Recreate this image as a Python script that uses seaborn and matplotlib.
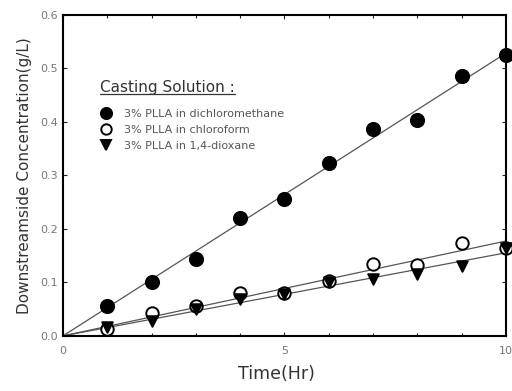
import numpy as np
import pandas as pd
import seaborn as sns
import matplotlib.pyplot as plt
from matplotlib.lines import Line2D

# data
time_hr = [1, 2, 3, 4, 5, 6, 7, 8, 9, 10]
dcm = [0.056, 0.100, 0.143, 0.220, 0.256, 0.323, 0.386, 0.404, 0.486, 0.525]
chloroform = [0.012, 0.042, 0.056, 0.081, 0.080, 0.103, 0.134, 0.133, 0.174, 0.165]
dioxane = [0.017, 0.028, 0.050, 0.069, 0.078, 0.101, 0.106, 0.115, 0.130, 0.165]
labels = ["3% PLLA in dichloromethane", "3% PLLA in chloroform", "3% PLLA in 1,4-dioxane"]

sns.set_style("ticks")
plt.rcParams['font.family'] = ['DejaVu Sans']

fig = plt.figure(figsize=(5.12, 3.91), dpi=100)
ax = fig.add_axes([0.123, 0.141, 0.865, 0.821])

styles = {
    labels[0]: dict(marker="o", facecolor="black", s=90, ms=8),
    labels[1]: dict(marker="o", facecolor="white", s=80, ms=7.5),
    labels[2]: dict(marker="v", facecolor="black", s=58, ms=7),
}

handles = []
for lab, vals in zip(labels, [dcm, chloroform, dioxane]):
    x = np.array(time_hr, dtype=float)
    y = np.array(vals)
    slope = (x * y).sum() / (x * x).sum()   # fit through origin
    fit = pd.DataFrame({"t": [0, 10], "c": [0, slope * 10]})
    sns.lineplot(data=fit, x="t", y="c", color="#555555", lw=0.9, ax=ax, zorder=2)
    st = styles[lab]
    df = pd.DataFrame({"t": x, "c": y})
    sns.scatterplot(data=df, x="t", y="c", marker=st["marker"], s=st["s"],
                    facecolor=st["facecolor"], edgecolor="black", linewidth=1.4,
                    ax=ax, zorder=3, clip_on=False)
    handles.append(Line2D([], [], ls="none", marker=st["marker"], markersize=st["ms"],
                          markerfacecolor=st["facecolor"], markeredgecolor="black",
                          markeredgewidth=1.4, label=lab))

ax.set_xlim(0, 10)
ax.set_ylim(0, 0.6)
ax.set_xticks([0, 5, 10])
ax.set_xticks(range(11), minor=True)
ax.set_yticks(np.arange(0, 0.61, 0.1))
ax.set_yticklabels([f"{v:.1f}" for v in np.arange(0, 0.61, 0.1)])
ax.tick_params(which="both", direction="in", top=True, right=True,
               labelsize=8, labelcolor="#777777", length=3, width=0.8)
ax.tick_params(axis="x", pad=7)
ax.tick_params(which="minor", length=2)
for sp in ax.spines.values():
    sp.set_linewidth(1.5)
    sp.set_color("black")
ax.set_xlabel("Time(Hr)", fontsize=12.5, color="#333333", labelpad=10)
ax.xaxis.set_label_coords(0.482, -0.09)
ax.set_ylabel("Downstreamside Concentration(g/L)", fontsize=11, color="#333333", labelpad=6)

leg = ax.legend(handles=handles, loc="upper left", bbox_to_anchor=(0.085, 0.707),
                frameon=False, fontsize=8, handletextpad=1.1, labelspacing=0.56,
                handlelength=1.0, borderaxespad=0, borderpad=0)
for t in leg.get_texts():
    t.set_color("#555555")

title = ax.text(0.0835, 0.773, "Casting Solution :", transform=ax.transAxes,
                fontsize=11, color="#333333", va="center", ha="left")
fig.canvas.draw()
bb = title.get_window_extent().transformed(fig.transFigure.inverted())
uy = bb.y0 + 0.004
fig.add_artist(Line2D([bb.x0, bb.x1], [uy, uy],
                      transform=fig.transFigure, color="#333333", lw=0.9))

fig.savefig("out.png", dpi=100)
